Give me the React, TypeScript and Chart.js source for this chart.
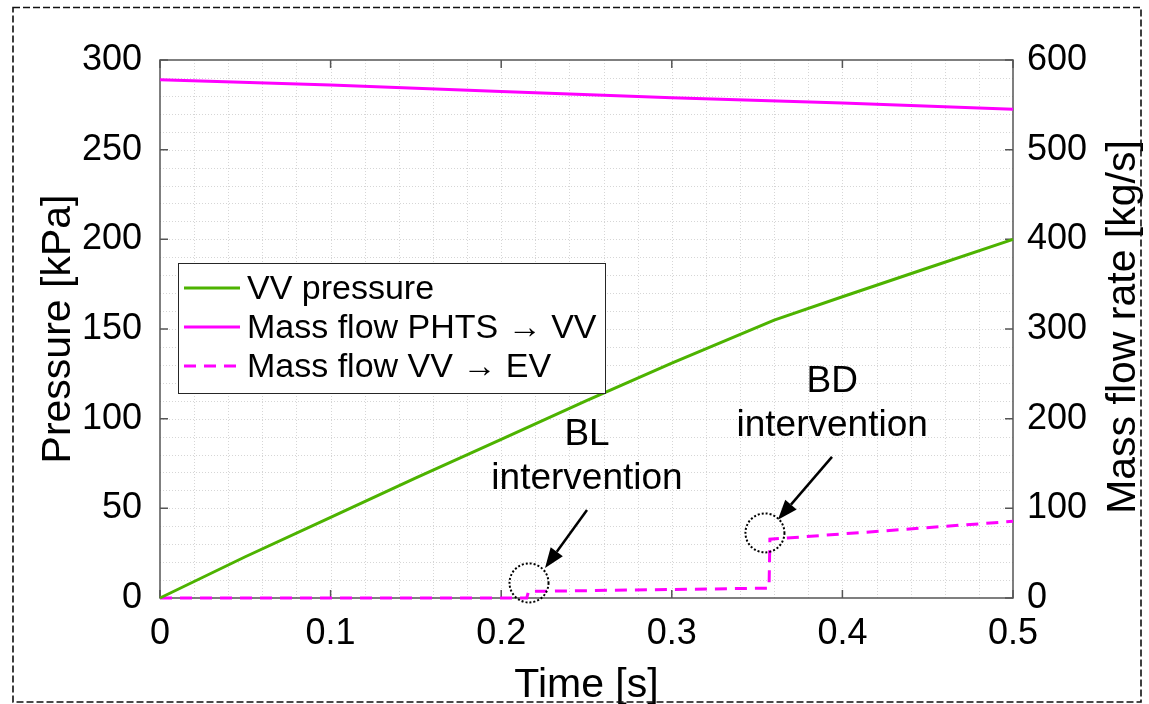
import { useEffect, useRef } from 'react';
import { Chart, registerables } from 'chart.js';

Chart.register(...registerables);

const FONT = "'Liberation Sans', Arial, Helvetica, sans-serif";

// ---- data ----
const pressureTime = [0, 0.05, 0.1, 0.15, 0.2, 0.25, 0.3, 0.36, 0.4, 0.45, 0.5];
const pressureKPa = [0, 23, 45, 67, 88.5, 110, 131, 155, 168, 184, 200];

const phtsTime = [0, 0.1, 0.2, 0.3, 0.4, 0.5];
const phtsFlow = [578, 572, 565, 558, 552, 545];

const evTime = [0, 0.215, 0.216, 0.357, 0.3575, 0.5];
const evFlow = [0, 0, 7.3, 11, 65.5, 85.5];

const legendLabels = ['VV pressure', 'Mass flow PHTS \u2192 VV', 'Mass flow VV \u2192 EV'];
const titleX = 'Time [s]';
const titleY = 'Pressure [kPa]';
const titleY1 = 'Mass flow rate [kg/s]';

// annotations (time [s], pressure [kPa])
const annotationTexts = [['BL', 'intervention'], ['BD', 'intervention']];
const annotationTextAt = [[0.2503, 85.4], [0.394, 115]];
const circleAt = [[0.2163, 8.4], [0.3546, 36.3]];
const arrowFrom = [[0.2503, 49.1], [0.3939, 78.7]];
const arrowTo = [[0.2257, 16.75], [0.3622, 43.6]];

const GREEN = '#4DB300';
const MAGENTA = '#FF00FF';

function toPoints(xs: number[], ys: number[]) {
  return xs.map((x, i) => ({ x, y: ys[i] }));
}

const figurePlugin = {
  id: 'figureDecor',
  beforeDatasetsDraw(chart: any) {
    const { ctx, chartArea: a, scales } = chart;
    const sx = scales.x;
    const sy = scales.y;
    ctx.save();
    // minor + major dotted grid
    ctx.strokeStyle = '#d6d6d6';
    ctx.lineWidth = 1;
    ctx.setLineDash([1, 2]);
    ctx.beginPath();
    for (let i = 1; i < 25; i++) {
      const px = Math.round(sx.getPixelForValue(i * 0.02)) + 0.5;
      ctx.moveTo(px, a.top);
      ctx.lineTo(px, a.bottom);
    }
    for (let i = 1; i < 30; i++) {
      const py = Math.round(sy.getPixelForValue(i * 10)) + 0.5;
      ctx.moveTo(a.left, py);
      ctx.lineTo(a.right, py);
    }
    ctx.stroke();
    ctx.setLineDash([]);
    // axes box
    ctx.strokeStyle = '#555555';
    ctx.lineWidth = 1.5;
    ctx.strokeRect(a.left, a.top, a.right - a.left, a.bottom - a.top);
    // inward ticks
    const tl = 8;
    ctx.beginPath();
    sx.ticks.forEach((t: any) => {
      const px = sx.getPixelForValue(t.value);
      ctx.moveTo(px, a.bottom);
      ctx.lineTo(px, a.bottom - tl);
      ctx.moveTo(px, a.top);
      ctx.lineTo(px, a.top + tl);
    });
    sy.ticks.forEach((t: any) => {
      const py = sy.getPixelForValue(t.value);
      ctx.moveTo(a.left, py);
      ctx.lineTo(a.left + tl, py);
    });
    scales.y1.ticks.forEach((t: any) => {
      const py = scales.y1.getPixelForValue(t.value);
      ctx.moveTo(a.right, py);
      ctx.lineTo(a.right - tl, py);
    });
    ctx.stroke();
    ctx.restore();
  },
  afterDatasetsDraw(chart: any) {
    const { ctx, chartArea: a, scales } = chart;
    const sx = scales.x;
    const sy = scales.y;
    const P = (p: number[]) => [sx.getPixelForValue(p[0]), sy.getPixelForValue(p[1])];
    ctx.save();

    // legend
    const lx = a.left + 18;
    const ly = a.top + 203;
    const lw = 427;
    const lh = 130;
    ctx.fillStyle = '#ffffff';
    ctx.fillRect(lx, ly, lw, lh);
    ctx.strokeStyle = '#262626';
    ctx.lineWidth = 1;
    ctx.strokeRect(lx + 0.5, ly + 0.5, lw, lh);
    ctx.font = `34px ${FONT}`;
    ctx.textAlign = 'left';
    ctx.textBaseline = 'alphabetic';
    chart.data.datasets.forEach((ds: any, i: number) => {
      const rowY = ly + 25 + i * 39;
      ctx.strokeStyle = ds.borderColor;
      ctx.lineWidth = ds.borderWidth;
      ctx.setLineDash(ds.borderDash || []);
      ctx.beginPath();
      ctx.moveTo(lx + 6, rowY);
      ctx.lineTo(lx + 62, rowY);
      ctx.stroke();
      ctx.setLineDash([]);
      ctx.fillStyle = '#000000';
      ctx.fillText(legendLabels[i], lx + 69, rowY + 11);
    });

    // annotations
    ctx.fillStyle = '#000000';
    ctx.strokeStyle = '#000000';
    ctx.font = `37px ${FONT}`;
    ctx.textAlign = 'center';
    annotationTexts.forEach((lines, k) => {
      const [tx, ty] = P(annotationTextAt[k]);
      lines.forEach((s, j) => ctx.fillText(s, tx, ty + j * 44));
      // circle
      const [cx, cy] = P(circleAt[k]);
      ctx.lineWidth = 2;
      ctx.setLineDash([2, 2]);
      ctx.beginPath();
      ctx.arc(cx, cy, 19.5, 0, Math.PI * 2);
      ctx.stroke();
      ctx.setLineDash([]);
      // arrow
      const [x0, y0] = P(arrowFrom[k]);
      const [x1, y1] = P(arrowTo[k]);
      const ang = Math.atan2(y1 - y0, x1 - x0);
      const hl = 20;
      const hw = 7.5;
      const bx = x1 - hl * Math.cos(ang);
      const by = y1 - hl * Math.sin(ang);
      ctx.lineWidth = 2.5;
      ctx.beginPath();
      ctx.moveTo(x0, y0);
      ctx.lineTo(bx, by);
      ctx.stroke();
      ctx.beginPath();
      ctx.moveTo(x1, y1);
      ctx.lineTo(bx + hw * Math.sin(ang), by - hw * Math.cos(ang));
      ctx.lineTo(bx - hw * Math.sin(ang), by + hw * Math.cos(ang));
      ctx.closePath();
      ctx.fill();
    });

    // axis titles
    ctx.font = `41px ${FONT}`;
    ctx.fillStyle = '#000000';
    ctx.textAlign = 'center';
    ctx.textBaseline = 'alphabetic';
    const midX = (a.left + a.right) / 2;
    const midY = (a.top + a.bottom) / 2;
    ctx.fillText(titleX, midX, a.bottom + 99);
    ctx.save();
    ctx.translate(a.left - 90, midY);
    ctx.rotate(-Math.PI / 2);
    ctx.fillText(titleY, 0, 0);
    ctx.restore();
    ctx.save();
    ctx.translate(a.right + 122, midY - 2);
    ctx.rotate(-Math.PI / 2);
    ctx.fillText(titleY1, 0, 0);
    ctx.restore();

    // dashed figure border
    ctx.strokeStyle = '#111111';
    ctx.lineWidth = 1.6;
    ctx.setLineDash([7, 3]);
    ctx.strokeRect(13, 7.5, 1128, 694.5);
    ctx.restore();
  },
};

export default function App() {
  const ref = useRef<HTMLCanvasElement | null>(null);
  useEffect(() => {
    if (!ref.current) return;
    const tickFont = { family: FONT, size: 36 };
    const chart = new Chart(ref.current, {
      type: 'line',
      data: {
        datasets: [
          {
            label: legendLabels[0],
            data: toPoints(pressureTime, pressureKPa),
            borderColor: GREEN,
            borderWidth: 3,
            pointRadius: 0,
            yAxisID: 'y',
            clip: false as any,
          },
          {
            label: legendLabels[1],
            data: toPoints(phtsTime, phtsFlow),
            borderColor: MAGENTA,
            borderWidth: 3,
            pointRadius: 0,
            yAxisID: 'y1',
            clip: false as any,
          },
          {
            label: legendLabels[2],
            data: toPoints(evTime, evFlow),
            borderColor: MAGENTA,
            borderWidth: 3,
            borderDash: [12, 8],
            pointRadius: 0,
            yAxisID: 'y1',
            clip: false as any,
          },
        ],
      },
      options: {
        animation: false,
        responsive: true,
        maintainAspectRatio: false,
        events: [],
        layout: { padding: { top: 60, left: 0, right: 0, bottom: 0 } },
        plugins: { legend: { display: false }, tooltip: { enabled: false }, title: { display: false } },
        scales: {
          x: {
            type: 'linear',
            min: 0,
            max: 0.5,
            grid: { display: false, drawTicks: false },
            border: { display: false },
            ticks: { stepSize: 0.1, font: tickFont, color: '#000', padding: 14, maxRotation: 0 },
            afterFit: (s: any) => { s.height = 106; },
          },
          y: {
            type: 'linear',
            position: 'left',
            min: 0,
            max: 300,
            grid: { display: false, drawTicks: false },
            border: { display: false },
            ticks: { stepSize: 50, font: tickFont, color: '#000', padding: 18 },
            afterFit: (s: any) => { s.width = 160; },
          },
          y1: {
            type: 'linear',
            position: 'right',
            min: 0,
            max: 600,
            grid: { display: false, drawTicks: false },
            border: { display: false },
            ticks: { stepSize: 100, font: tickFont, color: '#000', padding: 14 },
            afterFit: (s: any) => { s.width = 136; },
          },
        },
      } as any,
      plugins: [figurePlugin],
    });
    return () => chart.destroy();
  }, []);
  return (
    <div style={{ position: 'fixed', left: 0, top: 0, width: 1149, height: 704, background: '#fff' }}>
      <canvas ref={ref} />
    </div>
  );
}
